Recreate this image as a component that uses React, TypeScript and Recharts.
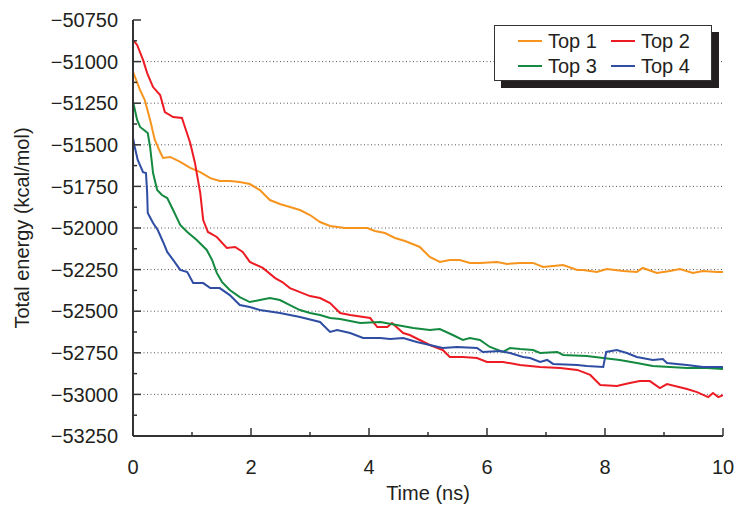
import React from 'react';
import { LineChart, Line, XAxis, YAxis, CartesianGrid, Legend } from 'recharts';

const seriesNames = ['Top 1', 'Top 2', 'Top 3', 'Top 4'];
const seriesColors = ['#F7941D', '#ED1C24', '#138A3F', '#2E4DA3'];

const top1Time = [0, 0.12, 0.2, 0.29, 0.37, 0.46, 0.51, 0.63, 0.8, 0.97, 1.14, 1.31, 1.47, 1.64, 1.81, 1.98, 2.15, 2.32, 2.49, 2.66, 2.83, 3.0, 3.17, 3.34, 3.59, 3.85, 3.97, 4.1, 4.27, 4.44, 4.61, 4.78, 4.86, 5.03, 5.2, 5.37, 5.54, 5.71, 5.88, 6.17, 6.34, 6.56, 6.78, 6.95, 7.12, 7.29, 7.53, 7.63, 7.86, 8.03, 8.31, 8.54, 8.64, 8.88, 9.1, 9.27, 9.49, 9.66, 9.9, 10];
const top1Energy = [-51062, -51171, -51231, -51351, -51471, -51543, -51579, -51573, -51603, -51639, -51664, -51700, -51718, -51718, -51724, -51736, -51772, -51832, -51856, -51874, -51892, -51922, -51964, -51988, -52000, -52000, -52000, -52018, -52030, -52060, -52078, -52102, -52114, -52174, -52204, -52192, -52192, -52210, -52210, -52204, -52216, -52210, -52210, -52234, -52228, -52222, -52252, -52252, -52264, -52246, -52258, -52264, -52240, -52270, -52258, -52246, -52270, -52258, -52264, -52264];

const top2Time = [0, 0.07, 0.17, 0.24, 0.34, 0.46, 0.54, 0.68, 0.83, 0.88, 0.97, 1.05, 1.14, 1.19, 1.27, 1.42, 1.59, 1.73, 1.86, 1.98, 2.2, 2.41, 2.53, 2.66, 2.83, 3.0, 3.17, 3.34, 3.51, 3.68, 4.02, 4.14, 4.31, 4.39, 4.58, 4.69, 4.86, 5.03, 5.25, 5.37, 5.59, 5.83, 6.0, 6.27, 6.56, 6.9, 7.24, 7.53, 7.75, 7.92, 8.2, 8.42, 8.59, 8.76, 8.93, 9.05, 9.39, 9.56, 9.75, 9.83, 9.92, 10];
const top2Energy = [-50870, -50900, -50990, -51069, -51153, -51201, -51303, -51333, -51339, -51393, -51489, -51609, -51790, -51952, -52024, -52054, -52120, -52114, -52144, -52204, -52240, -52301, -52325, -52361, -52385, -52409, -52421, -52451, -52511, -52523, -52541, -52595, -52595, -52571, -52631, -52643, -52673, -52703, -52733, -52775, -52775, -52781, -52805, -52805, -52823, -52835, -52841, -52853, -52883, -52943, -52949, -52932, -52920, -52920, -52962, -52938, -52968, -52986, -53016, -52992, -53016, -53004];

const top3Time = [0, 0.07, 0.12, 0.25, 0.29, 0.34, 0.41, 0.49, 0.58, 0.68, 0.8, 0.92, 1.08, 1.25, 1.34, 1.42, 1.51, 1.64, 1.81, 1.98, 2.15, 2.32, 2.49, 2.66, 2.83, 3.0, 3.17, 3.34, 3.51, 3.85, 4.19, 4.47, 4.75, 5.03, 5.2, 5.42, 5.59, 5.71, 5.88, 6.05, 6.27, 6.39, 6.56, 6.78, 6.9, 7.19, 7.29, 7.69, 7.97, 8.25, 8.54, 8.81, 9.1, 9.39, 9.73, 10];
const top3Energy = [-51240, -51351, -51393, -51429, -51513, -51670, -51772, -51802, -51820, -51892, -51982, -52024, -52072, -52132, -52192, -52270, -52325, -52373, -52415, -52445, -52433, -52421, -52433, -52463, -52493, -52511, -52523, -52541, -52547, -52571, -52565, -52583, -52601, -52613, -52607, -52643, -52673, -52661, -52673, -52715, -52745, -52721, -52727, -52733, -52751, -52745, -52763, -52769, -52781, -52793, -52811, -52829, -52835, -52841, -52841, -52847];

const top4Time = [0, 0.03, 0.08, 0.17, 0.22, 0.24, 0.25, 0.34, 0.42, 0.51, 0.58, 0.68, 0.8, 0.92, 1.02, 1.19, 1.31, 1.47, 1.64, 1.81, 1.98, 2.15, 2.49, 2.83, 3.17, 3.34, 3.46, 3.68, 3.9, 4.19, 4.36, 4.58, 4.81, 5.03, 5.25, 5.49, 5.83, 5.93, 6.22, 6.39, 6.61, 6.73, 6.9, 7.02, 7.12, 7.53, 7.69, 7.97, 8.02, 8.2, 8.37, 8.54, 8.81, 8.98, 9.05, 9.39, 9.66, 10];
const top4Energy = [-51459, -51513, -51591, -51664, -51670, -51790, -51910, -51970, -52012, -52084, -52144, -52192, -52252, -52265, -52331, -52331, -52361, -52361, -52403, -52463, -52475, -52493, -52511, -52535, -52565, -52625, -52613, -52631, -52661, -52661, -52667, -52661, -52685, -52703, -52721, -52715, -52721, -52745, -52739, -52751, -52775, -52781, -52805, -52793, -52817, -52823, -52829, -52835, -52745, -52733, -52751, -52775, -52793, -52787, -52811, -52823, -52835, -52835];

const xTicks = [0, 1, 2, 3, 4, 5, 6, 7, 8, 9, 10];
const xLabelTicks = [0, 2, 4, 6, 8, 10];
const yTicks = [-53250, -53125, -53000, -52875, -52750, -52625, -52500, -52375, -52250, -52125, -52000, -51875, -51750, -51625, -51500, -51375, -51250, -51125, -51000, -50875, -50750];
const yLabelTicks = [-53250, -53000, -52750, -52500, -52250, -52000, -51750, -51500, -51250, -51000, -50750];
const gridValues = [-53000, -52750, -52500, -52250, -52000, -51750, -51500, -51250, -51000];

const xDomain = [0, 10];
const yDomain = [-53250, -50750];

const FONT = '"Liberation Sans", Arial, Helvetica, sans-serif';
const TEXT = '#231f20';
const AXIS = '#333333';

const build = (ts: number[], es: number[]) => ts.map((t, i) => ({ t, e: es[i] }));
const series = [
  build(top1Time, top1Energy),
  build(top2Time, top2Energy),
  build(top3Time, top3Energy),
  build(top4Time, top4Energy),
];

const fmt = (v: number) => (v < 0 ? '\u2212' + Math.abs(v) : String(v));

const LEFT_GAP = 15;
const BOTTOM_GAP = 24;

const LeftTick = (props: any) => {
  const { x, y, payload } = props;
  const v = payload.value;
  const major = yLabelTicks.includes(v);
  const ax = x + LEFT_GAP;
  return (
    <g>
      <line x1={ax} x2={ax + (major ? 8 : 4)} y1={y} y2={y} stroke={AXIS} strokeWidth={1.5} />
      {major && (
        <text x={x} y={y} dy="0.355em" textAnchor="end" fontSize={20} fill={TEXT} fontFamily={FONT}>
          {fmt(v)}
        </text>
      )}
    </g>
  );
};

const BottomTick = (props: any) => {
  const { x, y, payload } = props;
  const v = payload.value;
  const major = xLabelTicks.includes(v);
  const ay = y - BOTTOM_GAP;
  return (
    <g>
      <line x1={x} x2={x} y1={ay} y2={ay - (major ? 8 : 4)} stroke={AXIS} strokeWidth={1.5} />
      {major && (
        <text x={x} y={y} dy="0.71em" textAnchor="middle" fontSize={20} fill={TEXT} fontFamily={FONT}>
          {String(v)}
        </text>
      )}
    </g>
  );
};

const TopTick = (props: any) => {
  const { x, y } = props;
  return <line x1={x} x2={x} y1={y} y2={y + 4} stroke={AXIS} strokeWidth={1.2} />;
};

const RightTick = (props: any) => {
  const { x, y } = props;
  return <line x1={x} x2={x - 4} y1={y} y2={y} stroke={AXIS} strokeWidth={1.2} />;
};

const renderLegend = (props: any) => {
  const payload = props.payload || [];
  return (
    <div
      style={{
        position: 'relative',
        width: 218,
        height: 56,
        border: '1.5px solid #333',
        background: '#fff',
        boxShadow: '7px 7px 0 #231f20',
        boxSizing: 'border-box',
        fontFamily: FONT,
        fontSize: 20,
        color: TEXT,
      }}
    >
      {payload.map((p: any, i: number) => (
        <div
          key={i}
          style={{
            position: 'absolute',
            left: i % 2 === 0 ? 23 : 116,
            top: i < 2 ? 2 : 27,
            height: 26,
            display: 'flex',
            alignItems: 'center',
            whiteSpace: 'nowrap',
          }}
        >
          <span style={{ display: 'inline-block', width: 24, height: 2.5, background: p.color, marginRight: 6 }} />
          <span>{p.value}</span>
        </div>
      ))}
    </div>
  );
};

export default function App() {
  return (
    <div style={{ position: 'absolute', left: 0, top: 0, background: '#fff' }}>
      <LineChart width={736} height={508} margin={{ top: 20, right: 13, bottom: 0, left: 0 }}>
        <CartesianGrid
          xAxisId="t"
          yAxisId="e"
          vertical={false}
          horizontalValues={gridValues}
          stroke="#555"
          strokeDasharray="1 2.5"
          strokeWidth={1}
        />
        <XAxis
          xAxisId="t"
          dataKey="t"
          type="number"
          domain={xDomain}
          ticks={xTicks}
          interval={0}
          height={72}
          tickSize={0}
          tickMargin={BOTTOM_GAP}
          tickLine={false}
          tick={<BottomTick />}
          axisLine={{ stroke: AXIS, strokeWidth: 2 }}
          allowDataOverflow
          label={{ value: 'Time (ns)', position: 'center', dy: 21, fontSize: 20, fill: TEXT, fontFamily: FONT }}
        />
        <XAxis
          xAxisId="top"
          orientation="top"
          type="number"
          domain={xDomain}
          ticks={xTicks}
          interval={0}
          height={0}
          tickSize={0}
          tickMargin={0}
          tickLine={false}
          tick={<TopTick />}
          axisLine={{ stroke: AXIS, strokeWidth: 1.5 }}
          allowDataOverflow
        />
        <YAxis
          yAxisId="e"
          type="number"
          domain={yDomain}
          ticks={yTicks}
          interval={0}
          width={133}
          tickSize={0}
          tickMargin={LEFT_GAP}
          tickLine={false}
          tick={<LeftTick />}
          axisLine={{ stroke: AXIS, strokeWidth: 2 }}
          allowDataOverflow
          label={{ value: 'Total energy (kcal/mol)', angle: -90, position: 'center', dx: -44.5, fontSize: 20, fill: TEXT, fontFamily: FONT }}
        />
        <YAxis
          yAxisId="right"
          orientation="right"
          type="number"
          domain={yDomain}
          ticks={yTicks}
          interval={0}
          width={0}
          tickSize={0}
          tickMargin={0}
          tickLine={false}
          tick={<RightTick />}
          axisLine={{ stroke: AXIS, strokeWidth: 1.5 }}
          allowDataOverflow
        />
        {series.map((d, i) => (
          <Line
            key={seriesNames[i]}
            xAxisId="t"
            yAxisId="e"
            data={d}
            dataKey="e"
            name={seriesNames[i]}
            type="linear"
            stroke={seriesColors[i]}
            strokeWidth={2}
            dot={false}
            activeDot={false}
            isAnimationActive={false}
          />
        ))}
        <Legend
          layout="horizontal"
          verticalAlign="middle"
          align="center"
          content={renderLegend}
          wrapperStyle={{ position: 'absolute', left: 494, top: 25, width: 218, height: 56 }}
        />
      </LineChart>
    </div>
  );
}
